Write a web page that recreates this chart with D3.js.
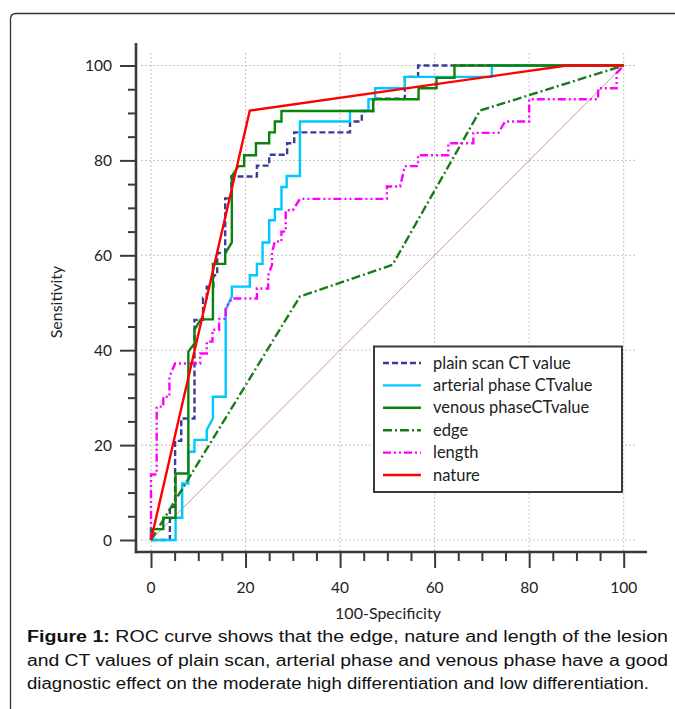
<!DOCTYPE html>
<meta charset="utf-8">
<head>
  <title>ROC curves</title>
  <style>
    body { margin: 0; background: #fff; }
  </style>
</head>
<body>
<script src="https://cdn.jsdelivr.net/npm/d3@7"></script>
<script>
var WIDTH = 675,
    HEIGHT = 709;

// series, [100-specificity, sensitivity]
var plainScan = [[0,0],[4,0],[4,7],[5.1,7],[5.1,20.9],[6.4,20.9],[6.4,25.6],[9.2,25.6],[9.2,46.4],[11,46.4],[11,51],[11.8,51],[11.8,53.4],[13.2,53.4],[13.2,55.8],[14,55.8],[14,60.5],[15.7,60.5],[15.7,72],[17,72],[17,76.6],[22.4,76.6],[22.4,78.9],[25,78.9],[25,81.2],[28.8,81.2],[28.8,83.6],[30.3,83.6],[30.3,85.9],[42.1,85.9],[42.1,88.2],[44.6,88.2],[44.6,90.4],[47,90.4],[47,93],[53.7,93],[53.7,97.6],[56.5,97.6],[56.5,100],[100,100]];
var arterialPhase = [[0,0],[5.2,0],[5.2,4.7],[6.6,4.7],[6.6,11.9],[7.9,11.9],[7.9,18.6],[9.2,18.6],[9.2,21.1],[11.8,21.1],[11.8,23.2],[13.1,25.6],[13.1,30.2],[15.8,30.2],[15.8,48.5],[17.1,51.3],[17.1,53.4],[20.9,53.4],[20.9,55.8],[22.4,55.8],[22.4,58.2],[23.6,58.2],[23.6,62.7],[25,62.7],[25,67.4],[26.2,67.4],[26.2,69.7],[27.6,69.7],[27.6,74.4],[28.7,74.4],[28.7,76.7],[31.5,76.7],[31.5,88.2],[42.1,88.2],[42.1,90.4],[46,90.4],[46,92.9],[47.4,92.9],[47.4,95.2],[53.7,95.2],[53.7,97.6],[72.1,97.6],[72.1,100],[100,100]];
var venousPhase = [[0,0],[0,2.3],[2.6,2.3],[2.6,4.7],[5.2,4.7],[5.2,14],[7.9,14],[7.9,39.7],[9.2,41.4],[9.2,44.3],[10.5,46.5],[13.1,46.5],[13.1,58.2],[15.7,58.2],[15.7,60.4],[17.1,62.7],[17.1,76.7],[18.5,78.8],[19.7,78.8],[19.7,81.1],[22.2,81.1],[22.2,83.6],[25,83.6],[25,85.9],[26.2,85.9],[26.2,88.2],[27.6,88.2],[27.6,90.4],[47,90.4],[47,92.9],[56.6,92.9],[56.6,95.2],[60.4,95.2],[60.4,97.4],[64.2,97.4],[64.2,100],[100,100]];
var edge = [[0,0],[31.5,51.3],[51.1,58],[69.6,90.5],[100,100]];
var lengthCurve = [[0,0],[0,13.8],[1.2,13.8],[1.2,28.1],[2.6,28.1],[2.6,30.2],[3.9,30.2],[3.9,34.4],[5.1,37.2],[10.4,37.2],[10.4,39.3],[11.8,39.3],[11.8,41.8],[13,41.8],[13,44.3],[14.4,44.3],[14.4,46.6],[15.8,46.6],[15.8,48.8],[17.1,50.9],[22.4,50.9],[22.4,53],[24.8,53],[24.8,55.8],[25.6,58],[25.6,60.5],[26.2,62.9],[27.6,62.9],[27.6,65],[28.5,65],[28.5,69.5],[30,69.5],[31.5,71.9],[49.9,71.9],[49.9,74.5],[52.7,74.5],[53.7,78.8],[56.5,78.8],[56.5,81.1],[62.9,81.1],[62.9,83.6],[68.2,83.6],[68.2,85.8],[73.5,85.8],[74.9,88.2],[80,88.2],[80,92.9],[94.6,92.9],[94.6,95.2],[98.5,95.2],[98.5,98.4],[100,100]];
var nature = [[0,0],[20.9,90.5],[88,100],[100,100]];
var chance = [[0,0],[100,100]];

var seriesNames = ["plain scan CT value", "arterial phase CTvalue", "venous phaseCTvalue", "edge", "length", "nature"];
var majorTicks = [0, 20, 40, 60, 80, 100];
var captionLines = [
  ["Figure 1:", " ROC curve shows that the edge, nature and length of the lesion"],
  ["", "and CT values of plain scan, arterial phase and venous phase have a good"],
  ["", "diagnostic effect on the moderate high differentiation and low differentiation."]
];

var series = [
  {name: seriesNames[0], data: plainScan,     color: "#3b3b9b", dash: "6,3"},
  {name: seriesNames[1], data: arterialPhase, color: "#00c8ff", dash: null},
  {name: seriesNames[2], data: venousPhase,   color: "#0a830a", dash: null},
  {name: seriesNames[3], data: edge,          color: "#1a7a1a", dash: "9,3,2,3"},
  {name: seriesNames[4], data: lengthCurve,   color: "#ff00ff", dash: "8,3,2,3,2,3"},
  {name: seriesNames[5], data: nature,        color: "#ff0000", dash: null}
];

var x = d3.scaleLinear().domain([0, 100]).range([151, 623.7]);
var y = d3.scaleLinear().domain([0, 100]).range([540, 65.5]);
var AXIS_X = 136, AXIS_Y = 552;

var svg = d3.select("body").append("svg")
    .attr("width", WIDTH)
    .attr("height", HEIGHT)
    .style("display", "block");

// figure frame
svg.append("path")
    .attr("d", "M10.5,712 V19 Q10.5,13.5 16,13.5 H680")
    .attr("fill", "none").attr("stroke", "#333").attr("stroke-width", 1.3);

// grid
var grid = svg.append("g").attr("stroke", "#c4c4c4").attr("stroke-width", 1).attr("stroke-dasharray", "2,2");
grid.selectAll(".gx").data(majorTicks).enter().append("line")
    .attr("x1", function(d) { return x(d); }).attr("x2", function(d) { return x(d); })
    .attr("y1", 53).attr("y2", AXIS_Y);
grid.selectAll(".gy").data(majorTicks).enter().append("line")
    .attr("y1", function(d) { return y(d); }).attr("y2", function(d) { return y(d); })
    .attr("x1", 141).attr("x2", 636);

// axes
var tickFont = "Lato, 'Open Sans', sans-serif";
var xAxis = d3.axisBottom(x).tickValues(d3.range(0, 101, 5)).tickSize(9).tickFormat("");
var yAxis = d3.axisLeft(y).tickValues(d3.range(0, 101, 5)).tickSize(8).tickFormat("");

var gx = svg.append("g").attr("transform", "translate(0," + AXIS_Y + ")").call(xAxis);
var gy = svg.append("g").attr("transform", "translate(" + AXIS_X + ",0)").call(yAxis);
[gx, gy].forEach(function(g) {
  g.select(".domain").remove();
  g.selectAll(".tick line").attr("stroke", "#3a3a3a").attr("stroke-width", 2);
});
gx.selectAll(".tick line").filter(function(d) { return d % 20 === 0; }).attr("y2", 16);
gy.selectAll(".tick line").filter(function(d) { return d % 20 === 0; }).attr("x2", -16);

svg.append("line").attr("x1", AXIS_X).attr("x2", AXIS_X).attr("y1", 43).attr("y2", AXIS_Y + 1.2)
    .attr("stroke", "#3a3a3a").attr("stroke-width", 2.6);
svg.append("line").attr("x1", AXIS_X - 1.2).attr("x2", 647).attr("y1", AXIS_Y).attr("y2", AXIS_Y)
    .attr("stroke", "#3a3a3a").attr("stroke-width", 2.6);

svg.selectAll(".xl").data(majorTicks).enter().append("text")
    .attr("x", function(d) { return x(d); }).attr("y", 593)
    .attr("text-anchor", "middle").attr("font-family", tickFont).attr("font-size", 15.5)
    .attr("fill", "#222").text(function(d) { return d; });
svg.selectAll(".yl").data(majorTicks).enter().append("text")
    .attr("x", 112).attr("y", function(d) { return y(d) + 5.5; })
    .attr("text-anchor", "end").attr("font-family", tickFont).attr("font-size", 15.5)
    .attr("fill", "#222").text(function(d) { return d; });

svg.append("text").attr("x", 388).attr("y", 619).attr("text-anchor", "middle")
    .attr("font-family", tickFont).attr("font-size", 16).attr("fill", "#222").text("100-Specificity");
svg.append("text").attr("transform", "translate(62,302) rotate(-90)").attr("text-anchor", "middle")
    .attr("font-family", tickFont).attr("font-size", 16).attr("fill", "#222").text("Sensitivity");

// curves
var line = d3.line().x(function(d) { return x(d[0]); }).y(function(d) { return y(d[1]); });

svg.append("path").datum(chance).attr("d", line)
    .attr("fill", "none").attr("stroke", "#c99a94").attr("stroke-width", 1);

svg.selectAll(".curve").data(series).enter().append("path")
    .attr("d", function(d) { return line(d.data); })
    .attr("fill", "none")
    .attr("stroke", function(d) { return d.color; })
    .attr("stroke-width", 2.4)
    .attr("stroke-dasharray", function(d) { return d.dash; });

// legend
var legend = svg.append("g");
legend.append("rect").attr("x", 374).attr("y", 346.5).attr("width", 248).attr("height", 145.5)
    .attr("fill", "#fff").attr("stroke", "#3a3a3a").attr("stroke-width", 2);
var items = legend.selectAll(".item").data(series).enter().append("g")
    .attr("transform", function(d, i) { return "translate(0," + (363 + i * 22.4) + ")"; });
items.append("line").attr("x1", 383).attr("x2", 421)
    .attr("stroke", function(d) { return d.color; }).attr("stroke-width", 2.4)
    .attr("stroke-dasharray", function(d) { return d.dash; });
items.append("text").attr("x", 433).attr("y", 5.5)
    .attr("font-family", tickFont).attr("font-size", 16.5).attr("fill", "#222")
    .text(function(d) { return d.name; });

// caption, stretched to the justified widths of the original
var capWidths = [641, 641, 622];
var cap = svg.selectAll(".cap").data(captionLines).enter().append("text")
    .attr("x", 27).attr("y", function(d, i) { return 642 + i * 23.5; })
    .attr("textLength", function(d, i) { return capWidths[i]; })
    .attr("lengthAdjust", "spacingAndGlyphs")
    .attr("font-family", "'Liberation Sans', Arial, sans-serif").attr("font-size", 16)
    .attr("fill", "#111");
cap.filter(function(d) { return d[0]; }).append("tspan").attr("font-weight", "bold").text(function(d) { return d[0]; });
cap.append("tspan").text(function(d) { return d[1]; });
</script>
</body>
